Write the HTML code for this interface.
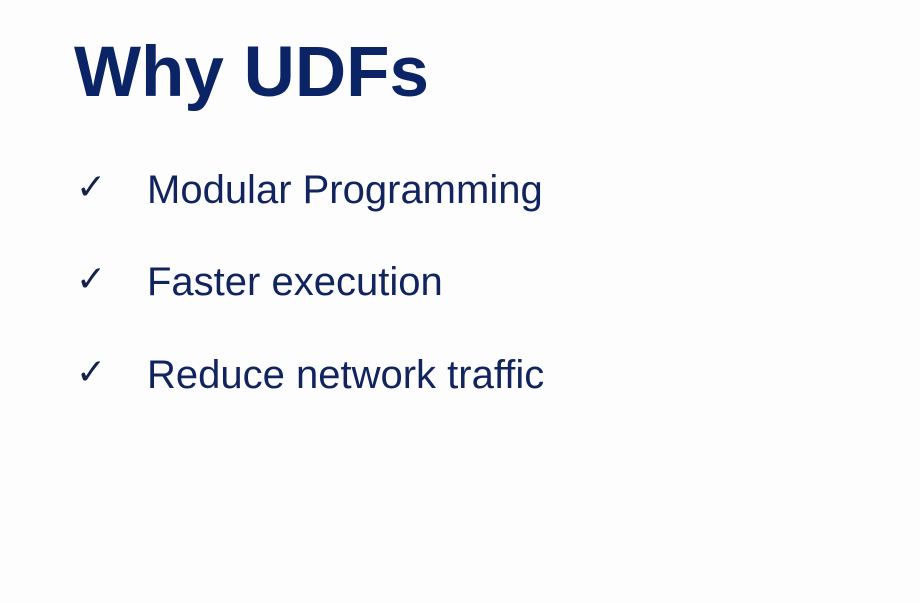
<!DOCTYPE html>
<html><head><style>
html,body{margin:0;padding:0;}
body{width:920px;height:603px;background:#fdfdfd;position:relative;overflow:hidden;font-family:"Liberation Sans",sans-serif;color:#12245e;}
.t{position:absolute;left:74px;top:37px;font-size:71px;line-height:1;font-weight:bold;color:#0a2466;white-space:nowrap;}
.b{position:absolute;left:147px;font-size:40px;line-height:1;white-space:nowrap;}
.c{position:absolute;left:76px;font-size:36px;line-height:1;font-weight:bold;color:#14224a;font-family:"DejaVu Sans",sans-serif;}
</style></head><body>
<div class="t">Why UDFs</div>
<div class="c" style="top:170px">✓</div><div class="b" style="top:170px">Modular Programming</div>
<div class="c" style="top:262px">✓</div><div class="b" style="top:262px">Faster execution</div>
<div class="c" style="top:355px">✓</div><div class="b" style="top:355px">Reduce network traffic</div>
</body></html>
